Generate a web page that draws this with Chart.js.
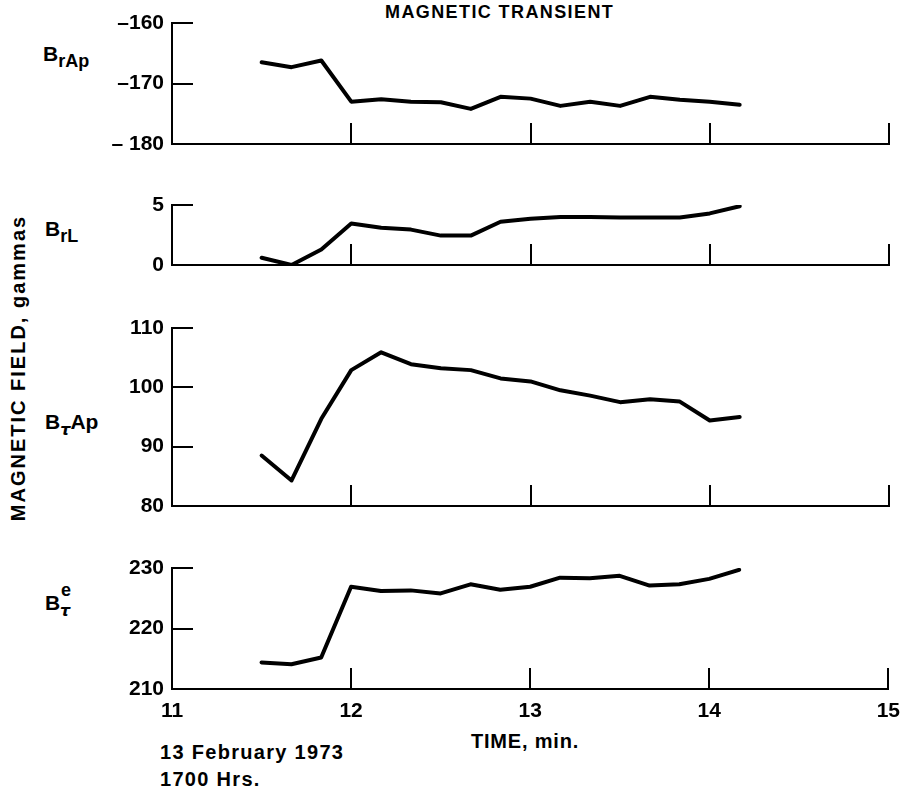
<!DOCTYPE html>
<html>
<head>
<meta charset="utf-8">
<script src="https://cdn.jsdelivr.net/npm/chart.js@4.4.1/dist/chart.umd.min.js"></script>
<style>
  html, body { margin:0; padding:0; background:#fff; width:904px; height:787px; overflow:hidden; }
  body { position:relative; font-family:'Liberation Sans', Arial, Helvetica, sans-serif; font-weight:bold; color:#000; }
  canvas { position:absolute; left:0; }
  .txt { position:absolute; white-space:nowrap; line-height:1; }
  .lbl { position:absolute; white-space:nowrap; font-size:21px; line-height:21px; }
  .sub { font-size:18px; position:relative; top:6px; }
  .tau { font-style:italic; font-family:'DejaVu Sans', sans-serif; font-size:16px; }
</style>
</head>
<body>
<div class="txt" style="left:385px;top:3px;font-size:18px;letter-spacing:1.4px;">MAGNETIC TRANSIENT</div>
<div class="txt" style="left:18px;top:368px;font-size:20px;letter-spacing:2px;transform:translate(-50%,-50%) rotate(-90deg);">MAGNETIC FIELD, gammas</div>

<div class="lbl" style="left:43px;top:43px;">B<span class="sub">rAp</span></div>
<div class="lbl" style="left:45px;top:218px;">B<span class="sub">rL</span></div>
<div class="lbl" style="left:45px;top:411px;">B<span class="sub tau">τ</span>Ap</div>
<div class="lbl" style="left:45px;top:592px;">B<span class="sub tau" style="position:absolute;left:15px;top:8px;">τ</span><span style="position:absolute;left:16px;top:-12px;font-size:18px;">e</span></div>

<div class="txt" style="left:471px;top:731px;font-size:20px;letter-spacing:0.8px;">TIME, min.</div>
<div class="txt" style="left:160px;top:742px;font-size:20px;letter-spacing:1.3px;">13 February 1973</div>
<div class="txt" style="left:160px;top:769px;font-size:20px;letter-spacing:1.3px;">1700 Hrs.</div>

<canvas id="c1" width="904" height="165" style="top:1px"></canvas>
<canvas id="c2" width="904" height="104" style="top:183px"></canvas>
<canvas id="c3" width="904" height="222" style="top:306px"></canvas>
<canvas id="c4" width="910" height="183" style="top:546px"></canvas>

<script>
// ---- data (time in minutes after 1700 Hrs, 13 February 1973) ----
const TIME = [11.5, 11.667, 11.833, 12.0, 12.167, 12.333, 12.5, 12.667, 12.833, 13.0, 13.167, 13.333, 13.5, 13.667, 13.833, 14.0, 14.167];
const B_R_AP   = [-166.5, -167.3, -166.2, -173.0, -172.6, -173.0, -173.1, -174.2, -172.2, -172.5, -173.7, -173.0, -173.7, -172.2, -172.7, -173.0, -173.5];
const B_R_L    = [0.6, 0.0, 1.3, 3.45, 3.1, 2.95, 2.45, 2.45, 3.6, 3.85, 4.0, 4.0, 3.95, 3.95, 3.95, 4.3, 4.9];
const B_TAU_AP = [88.5, 84.3, 94.7, 102.9, 105.9, 103.9, 103.2, 102.9, 101.5, 101.0, 99.5, 98.6, 97.5, 98.0, 97.6, 94.4, 95.0];
const B_TAU_E  = [214.4, 214.1, 215.2, 226.9, 226.2, 226.3, 225.8, 227.3, 226.4, 226.9, 228.4, 228.3, 228.7, 227.1, 227.3, 228.2, 229.7];

const X_TICKS = [11, 12, 13, 14, 15];
const X_TICK_LABELS = ['11', '12', '13', '14', '15'];
const Y1_TICKS = [-180, -170, -160];
const Y1_TICK_LABELS = ['– 180', '–170', '–160'];
const Y2_TICKS = [0, 5];
const Y2_TICK_LABELS = ['0', '5'];
const Y3_TICKS = [80, 90, 100, 110];
const Y3_TICK_LABELS = ['80', '90', '100', '110'];
const Y4_TICKS = [210, 220, 230];
const Y4_TICK_LABELS = ['210', '220', '230'];

const FONT = { family: "'Liberation Sans', Arial, Helvetica, sans-serif", size: 21, weight: 'bold' };

const innerTicks = {
  id: 'innerTicks',
  afterDraw(chart) {
    const { ctx, chartArea } = chart;
    const x = chart.scales.x, y = chart.scales.y;
    ctx.save();
    ctx.strokeStyle = '#000';
    ctx.lineWidth = 2;
    y.ticks.forEach(t => {
      const py = Math.round(y.getPixelForValue(t.value));
      if (Math.abs(py - chartArea.bottom) < 2) return;
      ctx.beginPath(); ctx.moveTo(chartArea.left, py); ctx.lineTo(chartArea.left + 21, py); ctx.stroke();
    });
    x.ticks.forEach(t => {
      if (t.value === X_TICKS[0]) return;
      const px = Math.round(x.getPixelForValue(t.value));
      ctx.beginPath(); ctx.moveTo(px, chartArea.bottom); ctx.lineTo(px, chartArea.bottom - 21); ctx.stroke();
    });
    ctx.restore();
  }
};

function makePanel(id, values, yTicks, yLabels, showX, padBottom) {
  new Chart(document.getElementById(id), {
    type: 'line',
    data: {
      datasets: [{
        data: TIME.map((t, i) => ({ x: t, y: values[i] })),
        borderColor: '#000',
        borderWidth: 4,
        pointRadius: 0,
        tension: 0,
        borderJoinStyle: 'round',
        borderCapStyle: 'round',
        fill: false
      }]
    },
    options: {
      responsive: false,
      animation: false,
      devicePixelRatio: 1,
      layout: { padding: { left: 0, right: 15, top: 22, bottom: padBottom } },
      plugins: { legend: { display: false }, tooltip: { enabled: false } },
      scales: {
        x: {
          type: 'linear',
          min: X_TICKS[0], max: X_TICKS[X_TICKS.length - 1],
          afterBuildTicks: s => { s.ticks = X_TICKS.map(v => ({ value: v })); },
          afterFit: s => { s.height = showX ? 40 : 0; },
          grid: { display: false, drawTicks: false },
          border: { display: true, color: '#000', width: 2 },
          ticks: {
            display: showX, padding: 10, color: '#000', font: FONT, maxRotation: 0,
            callback: v => X_TICK_LABELS[X_TICKS.indexOf(v)]
          }
        },
        y: {
          type: 'linear',
          min: yTicks[0], max: yTicks[yTicks.length - 1],
          afterBuildTicks: s => { s.ticks = yTicks.map(v => ({ value: v })); },
          afterFit: s => { s.width = 172; },
          grid: { display: false, drawTicks: false },
          border: { display: true, color: '#000', width: 2 },
          ticks: {
            padding: 8, color: '#000', font: FONT,
            callback: v => yLabels[yTicks.indexOf(v)]
          }
        }
      }
    },
    plugins: [innerTicks]
  });
}

makePanel('c1', B_R_AP, Y1_TICKS, Y1_TICK_LABELS, false, 22);
makePanel('c2', B_R_L, Y2_TICKS, Y2_TICK_LABELS, false, 22);
makePanel('c3', B_TAU_AP, Y3_TICKS, Y3_TICK_LABELS, false, 22);
makePanel('c4', B_TAU_E, Y4_TICKS, Y4_TICK_LABELS, true, 0);
</script>
</body>
</html>
